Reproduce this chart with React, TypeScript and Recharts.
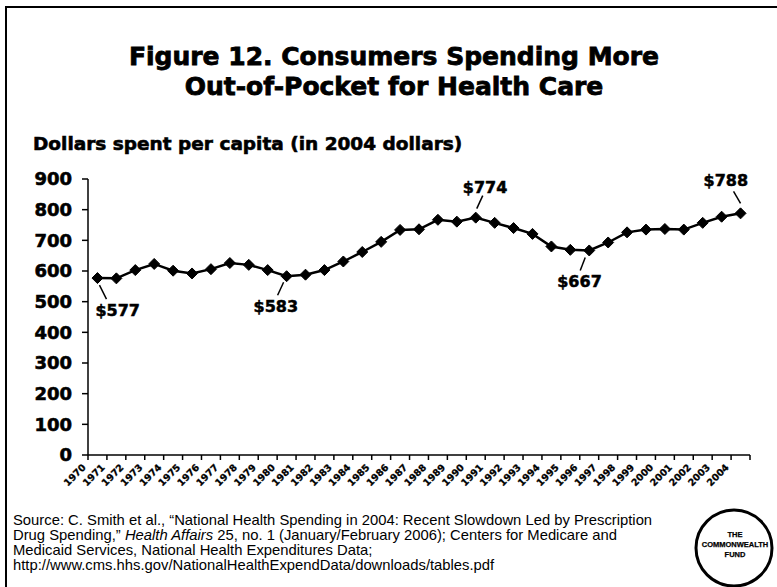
import React from 'react';
import { LineChart, Line, XAxis, YAxis, LabelList } from 'recharts';

// years on the category axis
const years = [
  '1970', '1971', '1972', '1973', '1974', '1975', '1976', '1977', '1978', '1979',
  '1980', '1981', '1982', '1983', '1984', '1985', '1986', '1987', '1988', '1989',
  '1990', '1991', '1992', '1993', '1994', '1995', '1996', '1997', '1998', '1999',
  '2000', '2001', '2002', '2003', '2004',
];

// out-of-pocket spending per capita, 2004 dollars
const spending = [
  577, 576, 603, 623, 601, 592, 606, 626, 620, 603,
  583, 588, 603, 631, 662, 695, 734, 736, 767, 761,
  774, 757, 740, 721, 680, 669, 667, 693, 726, 735,
  737, 735, 757, 777, 788,
];

const yTicks = [0, 100, 200, 300, 400, 500, 600, 700, 800, 900];

// which points get a "$" callout
const calloutYears = ['1970', '1980', '1990', '1996', '2004'];

const data = years.map((year, i) => ({ year, value: spending[i] }));

const HEAVY = '"DejaVu Sans", sans-serif';
const ARIAL = '"Liberation Sans", Arial, sans-serif';

// text offset and leader line for each callout, relative to the point
const calloutStyle: Record<string, { tx: number; ty: number; l: [number, number, number, number] }> = {
  '1970': { tx: -2, ty: 38, l: [2, 7, 9, 21] },
  '1980': { tx: -33, ty: 36, l: [-3, 6, -9, 19] },
  '1990': { tx: -13, ty: -25, l: [1, -9, 7, -22] },
  '1996': { tx: -32, ty: 37, l: [-4, 7, -9, 20] },
  '2004': { tx: -37, ty: -27, l: [-7, -22, 0, -10] },
};

const Diamond = (props: any) => {
  const { cx, cy } = props;
  if (cx == null || cy == null) return null;
  const r = 5.5;
  return (
    <path
      d={`M${cx},${cy - r} L${cx + r},${cy} L${cx},${cy + r} L${cx - r},${cy} Z`}
      fill="#000"
      stroke="#000"
      strokeWidth={1}
    />
  );
};

// year label plus Excel-style tick marks on the category edges
const YearTick = (props: any) => {
  const { x, y, payload, index } = props;
  const half = payload.offset || 0;
  const axisY = y - 2;
  const ax = x - 11;
  const ay = y + 11;
  return (
    <g>
      <line x1={x - half} y1={axisY} x2={x - half} y2={axisY + 5} stroke="#000" strokeWidth={1.5} />
      {index === years.length - 1 && (
        <line x1={x + half} y1={axisY} x2={x + half} y2={axisY + 5} stroke="#000" strokeWidth={1.5} />
      )}
      <text
        x={ax}
        y={ay}
        transform={`rotate(-45 ${ax} ${ay})`}
        textAnchor="end"
        fontFamily={HEAVY}
        fontWeight="bold"
        fontSize={9.5}
        fill="#000"
        stroke="#000"
        strokeWidth={0.3}
      >
        {payload.value}
      </text>
    </g>
  );
};

const renderCallout = (props: any) => {
  const { x, y, index } = props;
  const year = years[index];
  if (!calloutYears.includes(year)) return null;
  const s = calloutStyle[year];
  return (
    <g>
      <line
        x1={x + s.l[0]}
        y1={y + s.l[1]}
        x2={x + s.l[2]}
        y2={y + s.l[3]}
        stroke="#000"
        strokeWidth={1.5}
      />
      <text
        x={x + s.tx}
        y={y + s.ty}
        fontFamily={HEAVY}
        fontWeight="bold"
        fontSize={16}
        fill="#000"
        stroke="#000"
        strokeWidth={0.5}
      >
        ${spending[index]}
      </text>
    </g>
  );
};

export default function App() {
  return (
    <div style={{ position: 'fixed', left: 0, top: 0, width: 777, height: 587, background: '#fff', overflow: 'hidden' }}>
      <svg width={777} height={587} style={{ position: 'absolute', left: 0, top: 0 }}>
        <path d="M6,590 L6,7 L780,7" fill="none" stroke="#000" strokeWidth={2} />
        <g fontFamily={HEAVY} fontWeight="bold" fill="#000" stroke="#000" strokeWidth={0.8}>
          <text x={394} y={65} textAnchor="middle" fontSize={25}>
            Figure 12. Consumers Spending More
          </text>
          <text x={394} y={95} textAnchor="middle" fontSize={25}>
            Out-of-Pocket for Health Care
          </text>
          <text x={33} y={150} fontSize={18.5} strokeWidth={0.6}>
            Dollars spent per capita (in 2004 dollars)
          </text>
        </g>
        <g fontFamily={ARIAL} fontSize={14.8} fill="#000">
          <text x={13} y={525}>
            Source: C. Smith et al., “National Health Spending in 2004: Recent Slowdown Led by Prescription
          </text>
          <text x={13} y={540}>
            Drug Spending,” <tspan fontStyle="italic">Health Affairs</tspan> 25, no. 1 (January/February 2006); Centers for Medicare and
          </text>
          <text x={13} y={555}>Medicaid Services, National Health Expenditures Data;</text>
          <text x={13} y={570}>http://www.cms.hhs.gov/NationalHealthExpendData/downloads/tables.pdf</text>
        </g>
        <circle cx={734} cy={548} r={38} fill="none" stroke="#000" strokeWidth={3} />
        <g fontFamily={ARIAL} fontWeight="bold" fontSize={7.5} textAnchor="middle" stroke="#000" strokeWidth={0.25}>
          <text x={735} y={537}>THE</text>
          <text x={735} y={547}>COMMONWEALTH</text>
          <text x={735} y={557}>FUND</text>
        </g>
      </svg>
      <div style={{ position: 'absolute', left: 0, top: 0 }}>
        <LineChart width={777} height={587} data={data} margin={{ top: 179, right: 27, bottom: 131, left: 0 }}>
          <YAxis
            domain={[0, 900]}
            ticks={yTicks}
            interval={0}
            width={88}
            tickSize={6}
            tickMargin={10}
            axisLine={{ stroke: '#000', strokeWidth: 1.5 }}
            tickLine={{ stroke: '#000', strokeWidth: 1.5 }}
            tick={{ fill: '#000', stroke: '#000', strokeWidth: 0.6, fontFamily: HEAVY, fontWeight: 'bold', fontSize: 18 }}
          />
          <XAxis
            dataKey="year"
            scale="band"
            interval={0}
            height={1}
            tickLine={false}
            tickSize={0}
            tickMargin={2}
            axisLine={{ stroke: '#000', strokeWidth: 1.5 }}
            tick={<YearTick />}
          />
          <Line
            dataKey="value"
            stroke="#000"
            strokeWidth={2.5}
            dot={<Diamond />}
            activeDot={false}
            isAnimationActive={false}
          >
            <LabelList dataKey="value" content={renderCallout} />
          </Line>
        </LineChart>
      </div>
    </div>
  );
}
